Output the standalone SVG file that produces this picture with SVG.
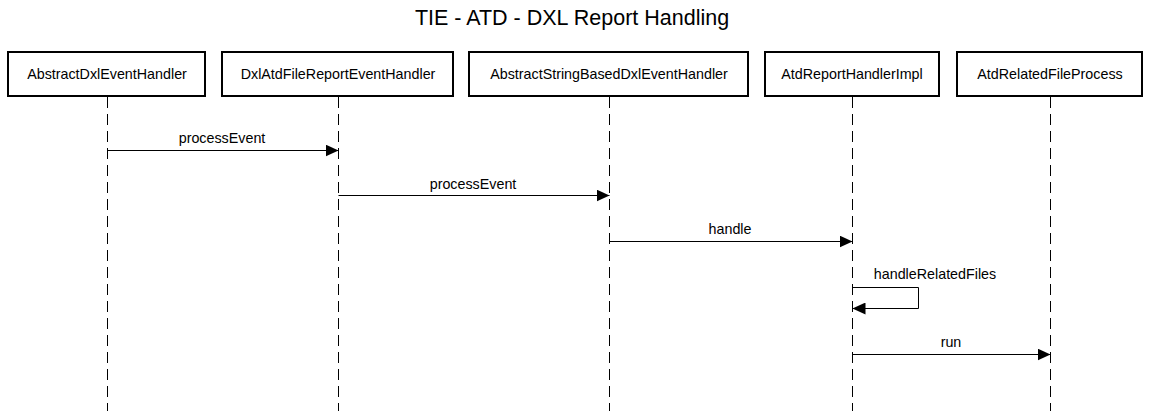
<svg xmlns="http://www.w3.org/2000/svg" width="1149" height="411" viewBox="0 0 1149 411">
<defs>
<style>
text{font-family:"Liberation Sans",Arial,sans-serif;fill:#000}
.title{font-size:21.5px}
.box{fill:#fff;stroke:#000;stroke-width:2}
.name{font-size:14.3px}
.life{stroke:#000;stroke-width:1;stroke-dasharray:11,6;fill:none}
.msg{stroke:#000;stroke-width:1;fill:none}
.lbl{font-size:14.3px}
</style>
<marker id="ah" viewBox="0 0 13 12" refX="13" refY="6" markerWidth="13" markerHeight="12" markerUnits="userSpaceOnUse" orient="auto">
<path d="M0,0 L13,6 L0,12 Z" fill="#000"/>
</marker>
</defs>
<text class="title" x="572" y="25" text-anchor="middle">TIE - ATD - DXL Report Handling</text>
<g id="lifelines">
<line class="life" x1="107.5" y1="97" x2="107.5" y2="411"/>
<line class="life" x1="338.5" y1="97" x2="338.5" y2="411"/>
<line class="life" x1="609.5" y1="97" x2="609.5" y2="411"/>
<line class="life" x1="852.5" y1="97" x2="852.5" y2="411"/>
<line class="life" x1="1050.5" y1="97" x2="1050.5" y2="411"/>
</g>
<g id="AbstractDxlEventHandler">
<rect class="box" x="8" y="52" width="197" height="44"/>
<text class="name" x="107" y="79" text-anchor="middle">AbstractDxlEventHandler</text>
</g>
<g id="DxlAtdFileReportEventHandler">
<rect class="box" x="222" y="52" width="231" height="44"/>
<text class="name" x="338" y="79" text-anchor="middle">DxlAtdFileReportEventHandler</text>
</g>
<g id="AbstractStringBasedDxlEventHandler">
<rect class="box" x="469" y="52" width="279" height="44"/>
<text class="name" x="609" y="79" text-anchor="middle">AbstractStringBasedDxlEventHandler</text>
</g>
<g id="AtdReportHandlerImpl">
<rect class="box" x="765" y="52" width="174" height="44"/>
<text class="name" x="852" y="79" text-anchor="middle">AtdReportHandlerImpl</text>
</g>
<g id="AtdRelatedFileProcess">
<rect class="box" x="957" y="52" width="185" height="44"/>
<text class="name" x="1050" y="79" text-anchor="middle">AtdRelatedFileProcess</text>
</g>
<g id="connectors">
<line class="msg" x1="107.5" y1="150.5" x2="338.5" y2="150.5" marker-end="url(#ah)"/>
<text class="lbl" x="222" y="143" text-anchor="middle">processEvent</text>
<line class="msg" x1="338.5" y1="195.5" x2="609.5" y2="195.5" marker-end="url(#ah)"/>
<text class="lbl" x="473" y="189" text-anchor="middle">processEvent</text>
<line class="msg" x1="609.5" y1="241.5" x2="852.5" y2="241.5" marker-end="url(#ah)"/>
<text class="lbl" x="730" y="234" text-anchor="middle">handle</text>
<polyline class="msg" points="852.5,287.5 918.5,287.5 918.5,308.5 852.5,308.5" marker-end="url(#ah)"/>
<text class="lbl" x="935" y="279" text-anchor="middle">handleRelatedFiles</text>
<line class="msg" x1="852.5" y1="354.5" x2="1050.5" y2="354.5" marker-end="url(#ah)"/>
<text class="lbl" x="951" y="347" text-anchor="middle">run</text>
</g>
</svg>
